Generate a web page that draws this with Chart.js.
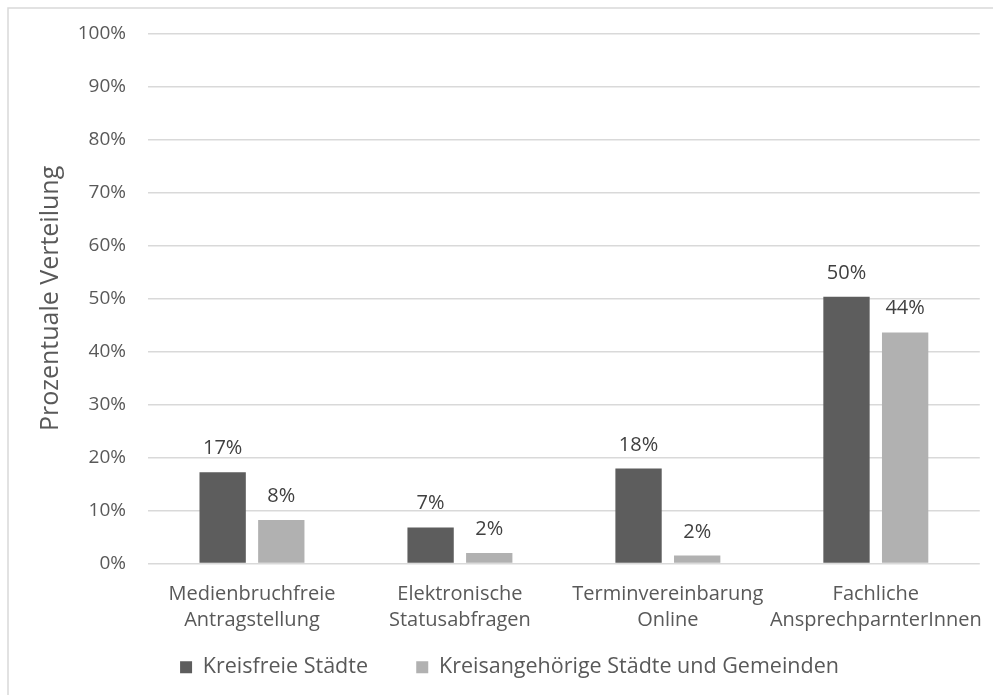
<!DOCTYPE html>
<html lang="de">
<head>
<meta charset="UTF-8">
<title>Prozentuale Verteilung</title>
<script src="https://cdn.jsdelivr.net/npm/chart.js"></script>
<style>
  html, body { margin: 0; padding: 0; background: #fff; }
  #wrap { width: 993px; height: 695px; position: relative; }
</style>
</head>
<body>
<div id="wrap"><canvas id="chart"></canvas></div>
<script>
// Kategorien (zweizeilige Achsenbeschriftung)
const categories = [
  ['Medienbruchfreie', 'Antragstellung'],
  ['Elektronische', 'Statusabfragen'],
  ['Terminvereinbarung', 'Online'],
  ['Fachliche', 'AnsprechparnterInnen']
];
const seriesNames = ['Kreisfreie Städte', 'Kreisangehörige Städte und Gemeinden'];
const kreisfrei = [17.2, 6.8, 17.9, 50.3];
const kreisangehoerig = [8.2, 2.0, 1.5, 43.6];
const yTicks = [0, 10, 20, 30, 40, 50, 60, 70, 80, 90, 100];

const FONT = '"Open Sans", "DejaVu Sans", sans-serif';
const TEXT = '#595959';

// Prozentwerte über den Balken
const valueLabels = {
  id: 'valueLabels',
  afterDatasetsDraw(chart) {
    const ctx = chart.ctx;
    ctx.save();
    ctx.font = '20px ' + FONT;
    ctx.fillStyle = '#404040';
    ctx.textAlign = 'center';
    ctx.textBaseline = 'alphabetic';
    chart.data.datasets.forEach((ds, i) => {
      chart.getDatasetMeta(i).data.forEach((bar, j) => {
        ctx.fillText(Math.round(ds.data[j]) + '%', bar.x, bar.y - 18);
      });
    });
    ctx.restore();
  }
};

// weißer Hintergrund mit grauem Rahmen (oben/links sichtbar)
const frame = {
  id: 'frame',
  beforeDraw(chart) {
    const ctx = chart.ctx;
    ctx.save();
    ctx.fillStyle = '#fff';
    ctx.fillRect(0, 0, chart.width, chart.height);
    ctx.strokeStyle = '#d9d9d9';
    ctx.lineWidth = 1.5;
    ctx.strokeRect(8, 8, chart.width + 20, chart.height + 20);
    ctx.restore();
  }
};

new Chart(document.getElementById('chart'), {
  type: 'bar',
  data: {
    labels: categories,
    datasets: [
      { label: seriesNames[0], data: kreisfrei, backgroundColor: '#5d5d5d' },
      { label: seriesNames[1], data: kreisangehoerig, backgroundColor: '#b1b1b1' }
    ]
  },
  options: {
    responsive: true,
    maintainAspectRatio: false,
    animation: false,
    layout: { padding: { top: 32, right: 10, bottom: 7, left: 36 } },
    datasets: {
      bar: { categoryPercentage: 0.564, barPercentage: 0.79 }
    },
    scales: {
      x: {
        grid: { display: false },
        border: { display: false },
        ticks: { color: TEXT, font: { family: FONT, size: 20, lineHeight: 1.3 }, padding: 10, maxRotation: 0, autoSkip: false },
        afterFit(scale) { scale.height = 77; }
      },
      y: {
        min: 0,
        max: 100,
        afterBuildTicks(scale) { scale.ticks = yTicks.map(v => ({ value: v })); },
        grid: { color: '#d9d9d9', lineWidth: 1.5, drawTicks: false },
        border: { display: false },
        ticks: { color: TEXT, font: { family: FONT, size: 19 }, padding: 22, callback: v => v + '%' },
        title: { display: true, text: 'Prozentuale Verteilung', color: TEXT, font: { family: FONT, size: 25 }, padding: { top: 0 } },
        afterFit(scale) { scale.width = 112; }
      }
    },
    plugins: {
      legend: {
        position: 'bottom',
        labels: {
          color: TEXT,
          font: { family: FONT, size: 21.5 },
          boxWidth: 12,
          boxHeight: 12,
          padding: 16,
          generateLabels(chart) {
            const items = Chart.defaults.plugins.legend.labels.generateLabels(chart);
            items.forEach(it => { it.lineWidth = 0; });
            // extra Abstand hinter dem ersten Eintrag
            items[0].text += '\u2003\u2002';
            return items;
          }
        }
      },
      tooltip: { enabled: false }
    }
  },
  plugins: [frame, valueLabels]
});
</script>
</body>
</html>
